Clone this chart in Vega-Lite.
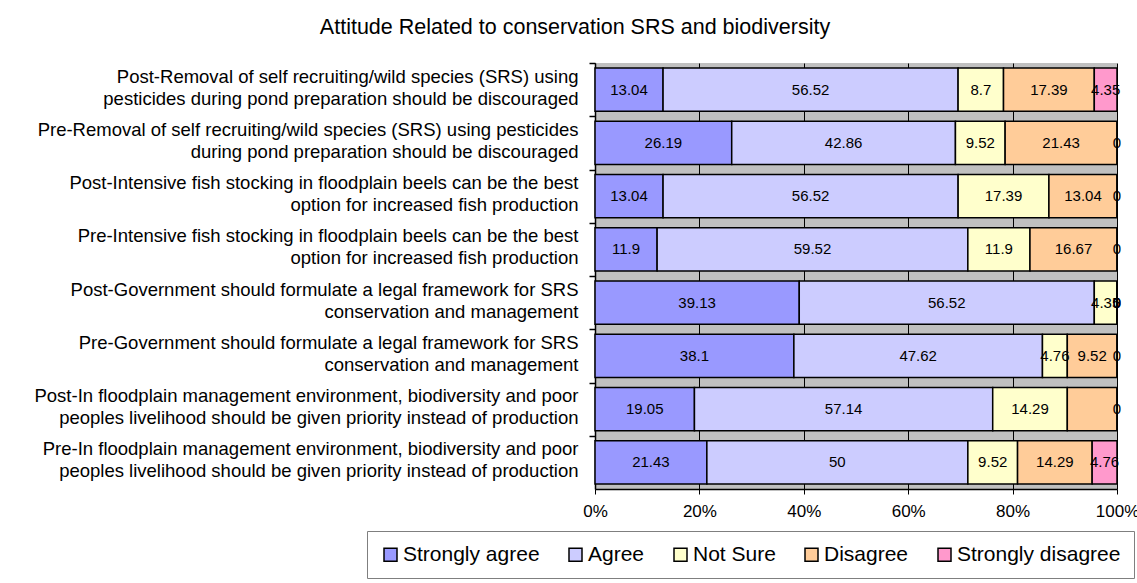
{
  "$schema": "https://vega.github.io/schema/vega-lite/v6.json",
  "autosize": {"type": "none"},
  "padding": {"left": 595, "top": 63, "right": 20, "bottom": 94},
  "width": 522,
  "height": 426,
  "background": "white",
  "title": {
    "text": "Attitude Related to conservation SRS and biodiversity",
    "font": "Liberation Sans",
    "fontSize": 21.5,
    "fontWeight": "normal",
    "color": "black",
    "anchor": "middle",
    "dx": -281,
    "offset": 24
  },
  "data": {
    "values": [
      {"statement": "Post-Removal of self recruiting/wild species (SRS) using\npesticides during pond preparation should be discouraged", "response": "Strongly agree", "level": 1, "value": 13.04},
      {"statement": "Post-Removal of self recruiting/wild species (SRS) using\npesticides during pond preparation should be discouraged", "response": "Agree", "level": 2, "value": 56.52},
      {"statement": "Post-Removal of self recruiting/wild species (SRS) using\npesticides during pond preparation should be discouraged", "response": "Not Sure", "level": 3, "value": 8.7},
      {"statement": "Post-Removal of self recruiting/wild species (SRS) using\npesticides during pond preparation should be discouraged", "response": "Disagree", "level": 4, "value": 17.39},
      {"statement": "Post-Removal of self recruiting/wild species (SRS) using\npesticides during pond preparation should be discouraged", "response": "Strongly disagree", "level": 5, "value": 4.35},

      {"statement": "Pre-Removal of self recruiting/wild species (SRS) using pesticides\nduring pond preparation should be discouraged", "response": "Strongly agree", "level": 1, "value": 26.19},
      {"statement": "Pre-Removal of self recruiting/wild species (SRS) using pesticides\nduring pond preparation should be discouraged", "response": "Agree", "level": 2, "value": 42.86},
      {"statement": "Pre-Removal of self recruiting/wild species (SRS) using pesticides\nduring pond preparation should be discouraged", "response": "Not Sure", "level": 3, "value": 9.52},
      {"statement": "Pre-Removal of self recruiting/wild species (SRS) using pesticides\nduring pond preparation should be discouraged", "response": "Disagree", "level": 4, "value": 21.43},
      {"statement": "Pre-Removal of self recruiting/wild species (SRS) using pesticides\nduring pond preparation should be discouraged", "response": "Strongly disagree", "level": 5, "value": 0},

      {"statement": "Post-Intensive fish stocking in floodplain beels can be the best\noption for increased fish production", "response": "Strongly agree", "level": 1, "value": 13.04},
      {"statement": "Post-Intensive fish stocking in floodplain beels can be the best\noption for increased fish production", "response": "Agree", "level": 2, "value": 56.52},
      {"statement": "Post-Intensive fish stocking in floodplain beels can be the best\noption for increased fish production", "response": "Not Sure", "level": 3, "value": 17.39},
      {"statement": "Post-Intensive fish stocking in floodplain beels can be the best\noption for increased fish production", "response": "Disagree", "level": 4, "value": 13.04},
      {"statement": "Post-Intensive fish stocking in floodplain beels can be the best\noption for increased fish production", "response": "Strongly disagree", "level": 5, "value": 0},

      {"statement": "Pre-Intensive fish stocking in floodplain beels can be the best\noption for increased fish production", "response": "Strongly agree", "level": 1, "value": 11.9},
      {"statement": "Pre-Intensive fish stocking in floodplain beels can be the best\noption for increased fish production", "response": "Agree", "level": 2, "value": 59.52},
      {"statement": "Pre-Intensive fish stocking in floodplain beels can be the best\noption for increased fish production", "response": "Not Sure", "level": 3, "value": 11.9},
      {"statement": "Pre-Intensive fish stocking in floodplain beels can be the best\noption for increased fish production", "response": "Disagree", "level": 4, "value": 16.67},
      {"statement": "Pre-Intensive fish stocking in floodplain beels can be the best\noption for increased fish production", "response": "Strongly disagree", "level": 5, "value": 0},

      {"statement": "Post-Government should formulate a legal framework for SRS\nconservation and management", "response": "Strongly agree", "level": 1, "value": 39.13},
      {"statement": "Post-Government should formulate a legal framework for SRS\nconservation and management", "response": "Agree", "level": 2, "value": 56.52},
      {"statement": "Post-Government should formulate a legal framework for SRS\nconservation and management", "response": "Not Sure", "level": 3, "value": 4.35},
      {"statement": "Post-Government should formulate a legal framework for SRS\nconservation and management", "response": "Disagree", "level": 4, "value": 0},
      {"statement": "Post-Government should formulate a legal framework for SRS\nconservation and management", "response": "Strongly disagree", "level": 5, "value": 0},

      {"statement": "Pre-Government should formulate a legal framework for SRS\nconservation and management", "response": "Strongly agree", "level": 1, "value": 38.1},
      {"statement": "Pre-Government should formulate a legal framework for SRS\nconservation and management", "response": "Agree", "level": 2, "value": 47.62},
      {"statement": "Pre-Government should formulate a legal framework for SRS\nconservation and management", "response": "Not Sure", "level": 3, "value": 4.76},
      {"statement": "Pre-Government should formulate a legal framework for SRS\nconservation and management", "response": "Disagree", "level": 4, "value": 9.52},
      {"statement": "Pre-Government should formulate a legal framework for SRS\nconservation and management", "response": "Strongly disagree", "level": 5, "value": 0},

      {"statement": "Post-In floodplain management environment, biodiversity and poor\npeoples livelihood should be given priority instead of production", "response": "Strongly agree", "level": 1, "value": 19.05},
      {"statement": "Post-In floodplain management environment, biodiversity and poor\npeoples livelihood should be given priority instead of production", "response": "Agree", "level": 2, "value": 57.14},
      {"statement": "Post-In floodplain management environment, biodiversity and poor\npeoples livelihood should be given priority instead of production", "response": "Not Sure", "level": 3, "value": 14.29},
      {"statement": "Post-In floodplain management environment, biodiversity and poor\npeoples livelihood should be given priority instead of production", "response": "Disagree", "level": 4, "value": 9.52},
      {"statement": "Post-In floodplain management environment, biodiversity and poor\npeoples livelihood should be given priority instead of production", "response": "Strongly disagree", "level": 5, "value": 0},

      {"statement": "Pre-In floodplain management environment, biodiversity and poor\npeoples livelihood should be given priority instead of production", "response": "Strongly agree", "level": 1, "value": 21.43},
      {"statement": "Pre-In floodplain management environment, biodiversity and poor\npeoples livelihood should be given priority instead of production", "response": "Agree", "level": 2, "value": 50},
      {"statement": "Pre-In floodplain management environment, biodiversity and poor\npeoples livelihood should be given priority instead of production", "response": "Not Sure", "level": 3, "value": 9.52},
      {"statement": "Pre-In floodplain management environment, biodiversity and poor\npeoples livelihood should be given priority instead of production", "response": "Disagree", "level": 4, "value": 14.29},
      {"statement": "Pre-In floodplain management environment, biodiversity and poor\npeoples livelihood should be given priority instead of production", "response": "Strongly disagree", "level": 5, "value": 4.76}
    ]
  },
  "layer": [
    {
      "mark": {"type": "bar", "stroke": "black", "strokeWidth": 1.5, "opacity": 1},
      "encoding": {
        "y": {
          "field": "statement",
          "type": "nominal",
          "sort": null,
          "scale": {"paddingInner": 0.19, "paddingOuter": 0.095},
          "axis": {
            "orient": "left",
            "title": null,
            "ticks": false,
            "domain": true,
            "domainColor": "black",
            "domainWidth": 1.5,
            "labelExpr": "split(datum.label, '\\n')",
            "labelFont": "Liberation Sans",
            "labelFontSize": 18.5,
            "labelLineHeight": 22,
            "labelColor": "black",
            "labelAlign": "right",
            "labelBaseline": "middle",
            "labelOffset": -13,
            "labelPadding": 17,
            "labelLimit": 0
          }
        },
        "x": {
          "field": "value",
          "type": "quantitative",
          "stack": "normalize",
          "scale": {"domain": [0, 1], "nice": false},
          "axis": {
            "title": null,
            "values": [0, 0.2, 0.4, 0.6, 0.8, 1],
            "format": ".0%",
            "grid": true,
            "gridColor": "black",
            "gridOpacity": 1,
            "gridWidth": 1,
            "domainColor": "black",
            "domainWidth": 1.5,
            "tickColor": "black",
            "tickSize": 5,
            "labelFont": "Liberation Sans",
            "labelFontSize": 17,
            "labelColor": "black",
            "labelPadding": 9,
            "labelFlush": false
          }
        },
        "color": {
          "field": "response",
          "type": "nominal",
          "sort": ["Strongly agree", "Agree", "Not Sure", "Disagree", "Strongly disagree"],
          "scale": {
            "domain": ["Strongly agree", "Agree", "Not Sure", "Disagree", "Strongly disagree"],
            "range": ["#9999ff", "#ccccff", "#ffffcc", "#ffcc99", "#ff99cc"]
          },
          "legend": {
            "orient": "none",
            "legendX": -228,
            "legendY": 468,
            "direction": "horizontal",
            "title": null,
            "symbolType": "square",
            "symbolSize": 169,
            "symbolStrokeColor": "black",
            "symbolStrokeWidth": 1.5,
            "symbolOpacity": 1,
            "labelFont": "Liberation Sans",
            "labelFontSize": 21,
            "labelColor": "black",
            "labelOffset": 2,
            "labelLimit": 0,
            "columnPadding": 25,
            "padding": 13,
            "strokeColor": "#7f7f7f",
            "fillColor": "white"
          }
        },
        "order": {"field": "level", "type": "quantitative"}
      }
    },
    {
      "transform": [
        {"stack": "value", "groupby": ["statement"], "sort": [{"field": "level"}], "offset": "normalize", "as": ["seg_start", "seg_end"]},
        {"calculate": "(datum.seg_start + datum.seg_end) / 2", "as": "seg_mid"}
      ],
      "mark": {"type": "text", "font": "Liberation Sans", "fontSize": 15, "color": "black", "align": "center", "baseline": "middle"},
      "encoding": {
        "y": {
          "field": "statement",
          "type": "nominal",
          "sort": null,
          "axis": {
            "orient": "left",
            "title": null,
            "labels": false,
            "domain": false,
            "grid": false,
            "ticks": true,
            "tickColor": "black",
            "tickWidth": 1.5,
            "tickSize": 6,
            "bandPosition": 0,
            "tickOffset": -5
          }
        },
        "x": {"field": "seg_mid", "type": "quantitative"},
        "text": {"field": "value", "type": "quantitative", "format": ".4~g"},
        "opacity": {
          "condition": {"test": "datum.response === 'Disagree' && indexof(datum.statement, 'Post-In floodplain') === 0", "value": 0},
          "value": 1
        }
      }
    }
  ],
  "resolve": {"axis": {"y": "independent"}},
  "config": {
    "font": "Liberation Sans",
    "view": {"fill": "#c0c0c0", "stroke": null}
  }
}
